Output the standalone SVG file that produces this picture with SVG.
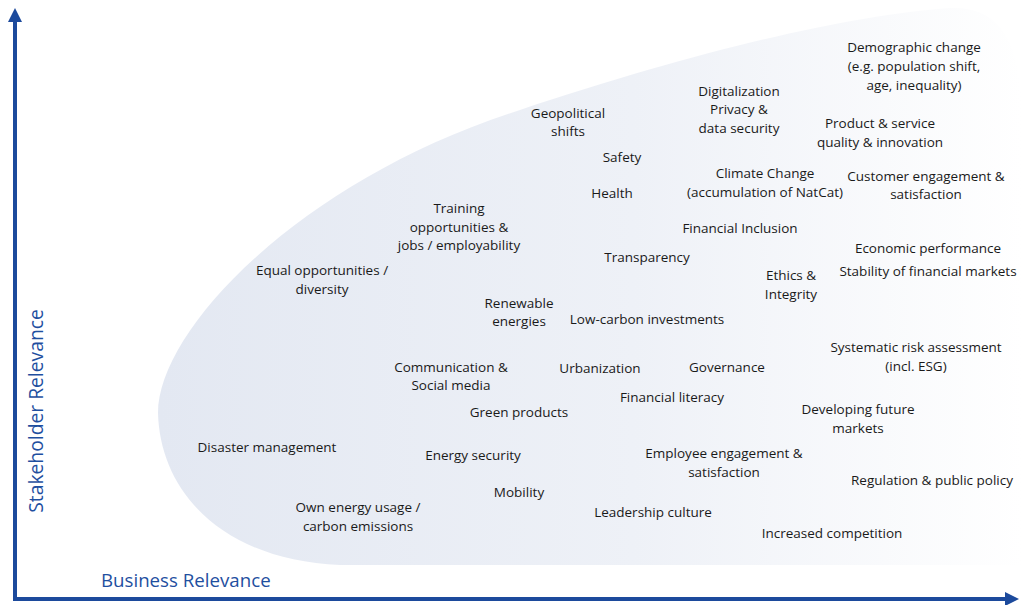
<svg xmlns="http://www.w3.org/2000/svg" width="1023" height="605" viewBox="0 0 1023 605">
<defs>
<linearGradient id="blobGrad" gradientUnits="userSpaceOnUse" x1="158" y1="0" x2="1023" y2="0">
<stop offset="0" stop-color="#e3e8f2"/>
<stop offset="0.55" stop-color="#eef1f7"/>
<stop offset="1" stop-color="#ffffff"/>
</linearGradient>
<marker id="arrow" viewBox="0 -7 14 14" refX="0" refY="0" markerWidth="14" markerHeight="14" markerUnits="userSpaceOnUse" orient="auto">
<path d="M0,-7 L14,0 L0,7 Z" fill="#1c4a9c"/>
</marker>
</defs>
<style>
.lbl{font-family:"Open Sans","Noto Sans","Liberation Sans",sans-serif;font-size:13.5px;fill:#1a1a1a;text-anchor:middle}
.axl{font-family:"Open Sans","Noto Sans","Liberation Sans",sans-serif;fill:#1f4f9f}
.axis{stroke:#1c4a9c;stroke-width:4;fill:none}
</style>
<rect width="1023" height="605" fill="#ffffff"/>
<path id="blob" d="M158,413 C158,330 300,180 520,110 C700,50 850,15 950,8 C1010,5 1022,60 1022,120 L1022,565 L340,565 C220,560 160,490 158,413 Z" fill="url(#blobGrad)"/>
<g id="connectors">
<line class="axis" x1="15" y1="600" x2="15" y2="22" marker-end="url(#arrow)"/>
<line class="axis" x1="13" y1="599" x2="1005" y2="599" marker-end="url(#arrow)"/>
</g>
<g id="axis-x"><text class="axl" x="101" y="587" font-size="18.7">Business Relevance</text></g>
<g id="axis-y"><text class="axl" transform="translate(43,411) rotate(-90)" text-anchor="middle" font-size="19.3">Stakeholder Relevance</text></g>
<g id="n-demographic"><text class="lbl" x="914" y="52">Demographic change</text><text class="lbl" x="914" y="71">(e.g. population shift,</text><text class="lbl" x="914" y="90">age, inequality)</text></g>
<g id="n-digital"><text class="lbl" x="739" y="96">Digitalization</text><text class="lbl" x="739" y="114">Privacy &amp;</text><text class="lbl" x="739" y="133">data security</text></g>
<g id="n-geopolitical"><text class="lbl" x="568" y="118">Geopolitical</text><text class="lbl" x="568" y="136">shifts</text></g>
<g id="n-product"><text class="lbl" x="880" y="128">Product &amp; service</text><text class="lbl" x="880" y="147">quality &amp; innovation</text></g>
<g id="n-safety"><text class="lbl" x="622" y="162">Safety</text></g>
<g id="n-climate"><text class="lbl" x="765" y="178">Climate Change</text><text class="lbl" x="765" y="197">(accumulation of NatCat)</text></g>
<g id="n-customer"><text class="lbl" x="926" y="181">Customer engagement &amp;</text><text class="lbl" x="926" y="199">satisfaction</text></g>
<g id="n-health"><text class="lbl" x="612" y="198">Health</text></g>
<g id="n-training"><text class="lbl" x="459" y="213">Training</text><text class="lbl" x="459" y="232">opportunities &amp;</text><text class="lbl" x="459" y="250">jobs / employability</text></g>
<g id="n-inclusion"><text class="lbl" x="740" y="233">Financial Inclusion</text></g>
<g id="n-economic"><text class="lbl" x="928" y="253">Economic performance</text></g>
<g id="n-transparency"><text class="lbl" x="647" y="262">Transparency</text></g>
<g id="n-equal"><text class="lbl" x="322" y="275">Equal opportunities /</text><text class="lbl" x="322" y="294">diversity</text></g>
<g id="n-stability"><text class="lbl" x="928" y="276">Stability of financial markets</text></g>
<g id="n-ethics"><text class="lbl" x="791" y="280">Ethics &amp;</text><text class="lbl" x="791" y="299">Integrity</text></g>
<g id="n-renewable"><text class="lbl" x="519" y="308">Renewable</text><text class="lbl" x="519" y="326">energies</text></g>
<g id="n-lowcarbon"><text class="lbl" x="647" y="324">Low-carbon investments</text></g>
<g id="n-systematic"><text class="lbl" x="916" y="352">Systematic risk assessment</text><text class="lbl" x="916" y="371">(incl. ESG)</text></g>
<g id="n-communication"><text class="lbl" x="451" y="372">Communication &amp;</text><text class="lbl" x="451" y="390">Social media</text></g>
<g id="n-urbanization"><text class="lbl" x="600" y="373">Urbanization</text></g>
<g id="n-governance"><text class="lbl" x="727" y="372">Governance</text></g>
<g id="n-literacy"><text class="lbl" x="672" y="402">Financial literacy</text></g>
<g id="n-developing"><text class="lbl" x="858" y="414">Developing future</text><text class="lbl" x="858" y="433">markets</text></g>
<g id="n-green"><text class="lbl" x="519" y="417">Green products</text></g>
<g id="n-disaster"><text class="lbl" x="267" y="452">Disaster management</text></g>
<g id="n-energysec"><text class="lbl" x="473" y="460">Energy security</text></g>
<g id="n-employee"><text class="lbl" x="724" y="458">Employee engagement &amp;</text><text class="lbl" x="724" y="477">satisfaction</text></g>
<g id="n-regulation"><text class="lbl" x="932" y="485">Regulation &amp; public policy</text></g>
<g id="n-mobility"><text class="lbl" x="519" y="497">Mobility</text></g>
<g id="n-ownenergy"><text class="lbl" x="358" y="512">Own energy usage /</text><text class="lbl" x="358" y="531">carbon emissions</text></g>
<g id="n-leadership"><text class="lbl" x="653" y="517">Leadership culture</text></g>
<g id="n-competition"><text class="lbl" x="832" y="538">Increased competition</text></g>
</svg>
